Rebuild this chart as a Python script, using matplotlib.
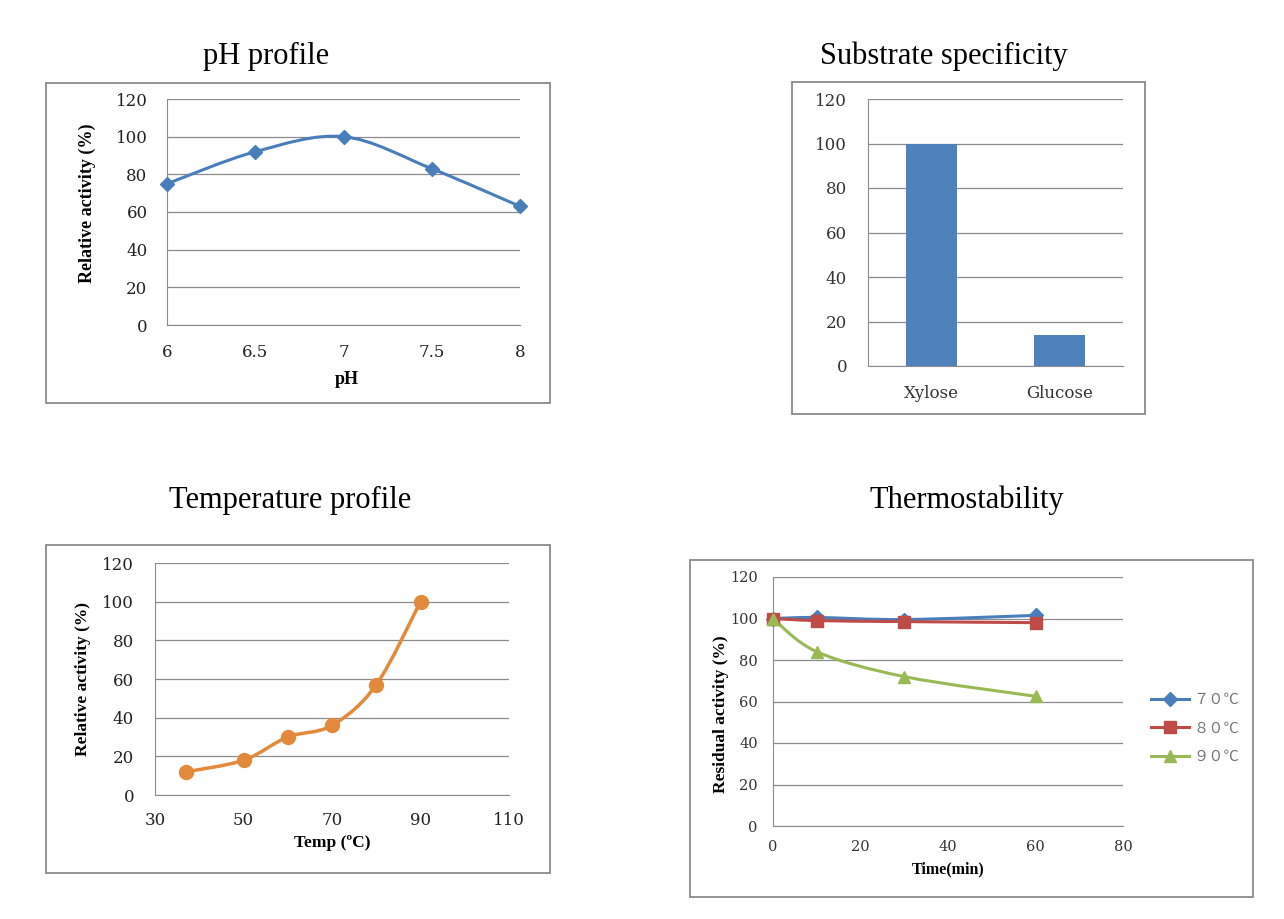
import numpy as np
import matplotlib
matplotlib.use("Agg")
import matplotlib.pyplot as plt
from matplotlib.path import Path
from matplotlib.patches import PathPatch, Rectangle
from matplotlib.lines import Line2D

# ---- data ----
ph = [6, 6.5, 7, 7.5, 8]
ph_act = [75, 92, 100, 83, 63]

substrates = ["Xylose", "Glucose"]
sub_act = [100, 14]

temp = [37, 50, 60, 70, 80, 90]
temp_act = [12, 18, 30, 36, 57, 100]

time_min = [0, 10, 30, 60]
res_70 = [100, 100.5, 99.5, 101.5]
res_80 = [100, 99, 98.5, 98]
res_90 = [100, 84, 72, 62.5]
res_labels = ["７０℃", "８０℃", "９０℃"]

W, H = 1284, 919
fig = plt.figure(figsize=(W / 100, H / 100), dpi=100)

SERIF = "Liberation Serif"
TICKF = "DejaVu Serif"
GRID = "#8c8c8c"


def px_axes(x0, x1, y0, y1):
    # pixel box (top-left origin) -> axes
    return fig.add_axes([x0 / W, 1 - y1 / H, (x1 - x0) / W, (y1 - y0) / H])


def frame(x0, x1, y0, y1):
    fig.patches.append(Rectangle((x0 / W, 1 - y1 / H), (x1 - x0) / W, (y1 - y0) / H,
                                 transform=fig.transFigure, fill=False,
                                 edgecolor="#8a8a8a", lw=1.3))


def title(x, y, s):
    fig.text(x / W, 1 - y / H, s, ha="center", va="center", family=SERIF, fontsize=22)


def style(ax, xpad, ypad, size=11, color="#222222"):
    ax.set_facecolor("none")
    ax.grid(axis="y", color=GRID, lw=0.9)
    ax.set_axisbelow(True)
    for s in ["top", "right"]:
        ax.spines[s].set_visible(False)
    ax.spines["left"].set_color(GRID)
    ax.spines["bottom"].set_color(GRID)
    ax.tick_params(length=0, labelsize=size, labelcolor=color)
    ax.tick_params(axis="x", pad=xpad)
    ax.tick_params(axis="y", pad=ypad)
    for lab in ax.get_xticklabels() + ax.get_yticklabels():
        lab.set_family(TICKF)


def smooth(ax, x, y, color, lw=2.2):
    # Catmull-Rom style bezier through the points, like Excel's smoothed line
    p = np.column_stack([x, y]).astype(float)
    n = len(p)
    verts = [p[0]]
    codes = [Path.MOVETO]
    for i in range(n - 1):
        a = p[i - 1] if i > 0 else p[i]
        d = p[i + 2] if i + 2 < n else p[i + 1]
        c1 = p[i] + (p[i + 1] - a) / 6
        c2 = p[i + 1] - (d - p[i]) / 6
        verts += [c1, c2, p[i + 1]]
        codes += [Path.CURVE4] * 3
    ax.add_patch(PathPatch(Path(verts, codes), fill=False, edgecolor=color, lw=lw,
                           capstyle="round", joinstyle="round", zorder=3, clip_on=False))


def label(ax, x, y, s, rot=0, size=12):
    ax.text(x, y, s, transform=ax.transAxes, ha="center", va="center", rotation=rot,
            family=SERIF, fontweight="bold", fontsize=size)


# ---- pH profile ----
frame(46, 550, 83, 403)
title(266, 56, "pH profile")
ax1 = px_axes(167, 520, 99, 325)
smooth(ax1, ph, ph_act, "#4a7ebb")
ax1.plot(ph, ph_act, ls="none", marker="D", ms=7, color="#4a7ebb", zorder=4, clip_on=False)
ax1.set_xlim(6, 8)
ax1.set_ylim(0, 120)
ax1.set_xticks(ph)
ax1.set_xticklabels(["6", "6.5", "7", "7.5", "8"])
ax1.set_yticks(range(0, 121, 20))
style(ax1, 14, 14, size=12)
label(ax1, -0.227, 0.54, "Relative activity (%)", rot=90, size=13)
label(ax1, 0.51, -0.24, "pH", size=13)

# ---- Substrate specificity ----
frame(792, 1145, 82, 414)
title(944, 56, "Substrate specificity")
ax2 = px_axes(868, 1123, 99, 366)
ax2.bar(range(len(substrates)), sub_act, width=0.4, color="#4f81bd", zorder=3)
ax2.set_xlim(-0.5, 1.5)
ax2.set_ylim(0, 120)
ax2.set_xticks(range(len(substrates)))
ax2.set_xticklabels(substrates)
ax2.set_yticks(range(0, 121, 20))
style(ax2, 14, 15, size=12, color="#333333")

# ---- Temperature profile ----
frame(46, 550, 545, 873)
title(290, 500, "Temperature profile")
ax3 = px_axes(155, 509, 563, 795)
smooth(ax3, temp, temp_act, "#e2893b", lw=2.5)
ax3.plot(temp, temp_act, ls="none", marker="o", ms=10, color="#e2893b", zorder=4, clip_on=False)
ax3.set_xlim(30, 110)
ax3.set_ylim(0, 120)
ax3.set_xticks(range(30, 111, 20))
ax3.set_yticks(range(0, 121, 20))
style(ax3, 12, 15, size=12)
label(ax3, -0.203, 0.5, "Relative activity (%)", rot=90, size=12.5)
label(ax3, 0.5, -0.207, "Temp (ºC)", size=12.5)

# ---- Thermostability ----
frame(690, 1253, 560, 897)
title(967, 500, "Thermostability")
ax4 = px_axes(773, 1123, 577, 826)
series = [(res_70, "#4a7ebb", "D", 7), (res_80, "#be4b48", "s", 8), (res_90, "#98b954", "^", 8)]
handles = []
for vals, col, mk, ms in series:
    smooth(ax4, time_min, vals, col, lw=2.2)
    ax4.plot(time_min, vals, ls="none", marker=mk, ms=ms, color=col, zorder=4, clip_on=False)
    handles.append(Line2D([], [], color=col, lw=2.2, marker=mk, ms=ms))
ax4.set_xlim(0, 80)
ax4.set_ylim(0, 120)
ax4.set_xticks(range(0, 81, 20))
ax4.set_yticks(range(0, 121, 20))
style(ax4, 10, 11, size=10.5, color="#333333")
label(ax4, -0.149, 0.45, "Residual activity (%)", rot=90, size=12.5)
label(ax4, 0.5, -0.173, "Time(min)", size=11.5)
leg = fig.legend(handles, res_labels, loc="center left",
                 bbox_to_anchor=(1137 / W, 1 - 728 / H), frameon=False,
                 handlelength=2.5, labelspacing=0.75, handletextpad=0.3,
                 prop={"family": ["Noto Sans CJK JP", "DejaVu Sans"], "size": 11})
for t in leg.get_texts():
    t.set_color("#777777")

fig.savefig("out.png", dpi=100)
